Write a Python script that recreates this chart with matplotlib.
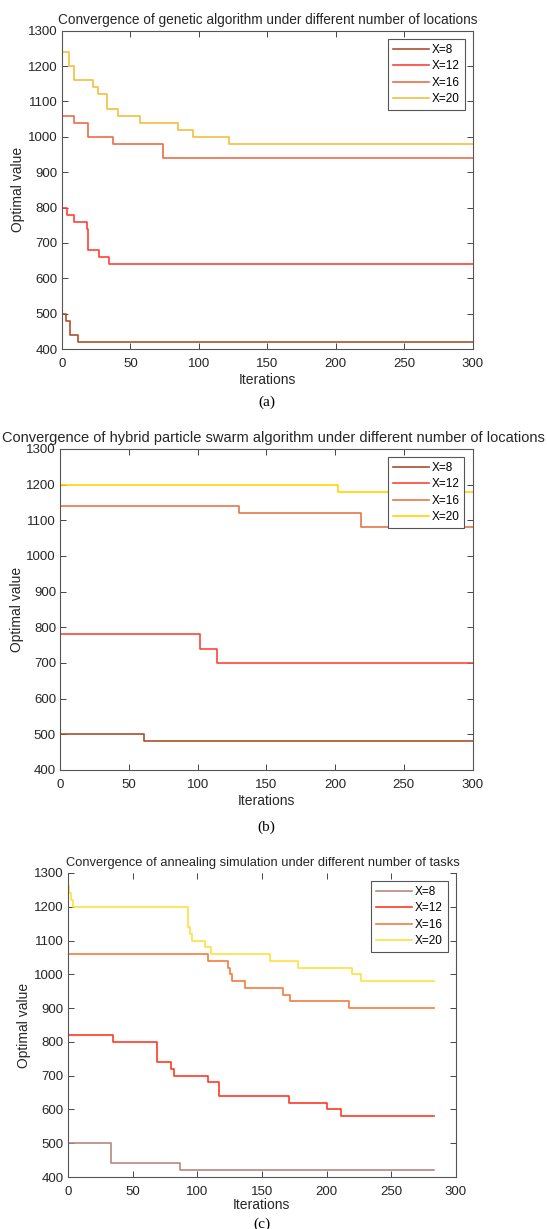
import matplotlib.pyplot as plt

plt.rcParams['font.family'] = ['Liberation Sans', 'DejaVu Sans']

labels = ['X=8', 'X=12', 'X=16', 'X=20']

# (a) genetic algorithm: iterations where the best value changes, and the value
ga_x8_it = [0, 3, 6, 12, 300]
ga_x8_val = [500, 480, 440, 420, 420]
ga_x12_it = [0, 4, 9, 18, 19, 27, 34, 300]
ga_x12_val = [800, 780, 760, 740, 680, 660, 640, 640]
ga_x16_it = [0, 9, 19, 37, 74, 300]
ga_x16_val = [1060, 1040, 1000, 980, 940, 940]
ga_x20_it = [0, 5, 9, 23, 26, 33, 41, 57, 85, 96, 122, 300]
ga_x20_val = [1240, 1200, 1160, 1140, 1120, 1080, 1060, 1040, 1020, 1000, 980, 980]

# (b) hybrid particle swarm
pso_x8_it = [0, 61, 300]
pso_x8_val = [500, 480, 480]
pso_x12_it = [0, 102, 114, 300]
pso_x12_val = [780, 740, 700, 700]
pso_x16_it = [0, 130, 219, 300]
pso_x16_val = [1140, 1120, 1080, 1080]
pso_x20_it = [0, 202, 300]
pso_x20_val = [1200, 1180, 1180]

# (c) simulated annealing
sa_x8_it = [0, 33, 87, 283]
sa_x8_val = [500, 440, 420, 420]
sa_x12_it = [0, 35, 69, 80, 82, 108, 117, 171, 200, 211, 283]
sa_x12_val = [820, 800, 740, 720, 700, 680, 640, 620, 600, 580, 580]
sa_x16_it = [0, 108, 124, 125, 127, 137, 166, 172, 217, 283]
sa_x16_val = [1060, 1040, 1020, 1000, 980, 960, 940, 920, 900, 900]
sa_x20_it = [0, 1, 2, 4, 93, 94, 96, 106, 111, 156, 178, 220, 227, 283]
sa_x20_val = [1260, 1240, 1220, 1200, 1140, 1120, 1100, 1080, 1060, 1040, 1020, 1000, 980, 980]

panels = [
    dict(rect=[0.1133, 0.716, 0.751, 0.259],
         title='Convergence of genetic algorithm under different number of locations',
         tsize=9.8, tx=0.5,
         series=[(ga_x8_it, ga_x8_val), (ga_x12_it, ga_x12_val),
                 (ga_x16_it, ga_x16_val), (ga_x20_it, ga_x20_val)],
         colors=['#b0502a', '#ff4238', '#e86e48', '#f2c040'],
         cap='(a)', cap_off=-38, xlpad=2, top=True),
    dict(rect=[0.110, 0.3735, 0.754, 0.2612],
         title='Convergence of hybrid particle swarm algorithm under different number of locations',
         tsize=10.5, tx=0.518,
         series=[(pso_x8_it, pso_x8_val), (pso_x12_it, pso_x12_val),
                 (pso_x16_it, pso_x16_val), (pso_x20_it, pso_x20_val)],
         colors=['#a8502c', '#ff463a', '#e8764c', '#ffd400'],
         cap='(b)', cap_off=-41, xlpad=2, top=True),
    dict(rect=[0.1243, 0.0423, 0.709, 0.2474],
         title='Convergence of annealing simulation under different number of tasks',
         tsize=9.3, tx=0.503,
         series=[(sa_x8_it, sa_x8_val), (sa_x12_it, sa_x12_val),
                 (sa_x16_it, sa_x16_val), (sa_x20_it, sa_x20_val)],
         colors=['#b88880', '#ff3a22', '#f47c40', '#ffe040'],
         cap='(c)', cap_off=-34, xlpad=0, top=False),
]

fig = plt.figure(figsize=(5.47, 12.29), dpi=100)
gray = '#262626'
for p in panels:
    ax = fig.add_axes(p['rect'])
    for (it, val), c, lab in zip(p['series'], p['colors'], labels):
        ax.plot(it, val, drawstyle='steps-post', color=c, lw=1.2, label=lab)
    ax.set_xlim(0, 300)
    ax.set_ylim(400, 1300)
    ax.set_xticks(range(0, 301, 50))
    ax.set_yticks(range(400, 1301, 100))
    ax.tick_params(direction='in', top=True, right=True, labelsize=9.5,
                   colors=gray, length=4, width=0.6, pad=3)
    ax.tick_params(axis='x', pad=6.5)
    for s in ax.spines.values():
        s.set_color('#555555')
        s.set_linewidth(0.8)
    if not p['top']:
        ax.spines['top'].set_visible(False)
    ax.set_title(p['title'], fontsize=p['tsize'], color=gray, pad=5, x=p['tx'])
    ax.set_xlabel('Iterations', fontsize=10, color=gray, labelpad=p['xlpad'])
    ax.set_ylabel('Optimal value', fontsize=10, color=gray, labelpad=2)
    leg = ax.legend(loc='upper right', fontsize=8.5, handlelength=3.1,
                    handletextpad=0.2, borderaxespad=0.7, labelspacing=0.38,
                    borderpad=0.4, fancybox=False, edgecolor='#555555',
                    framealpha=1)
    leg.get_frame().set_linewidth(0.8)
    ax.annotate(p['cap'], xy=(0.5, 0), xycoords='axes fraction',
                xytext=(0, p['cap_off']), textcoords='offset points',
                ha='center', va='center', fontsize=11, family='Liberation Serif')

fig.savefig('out.png', dpi=100)
